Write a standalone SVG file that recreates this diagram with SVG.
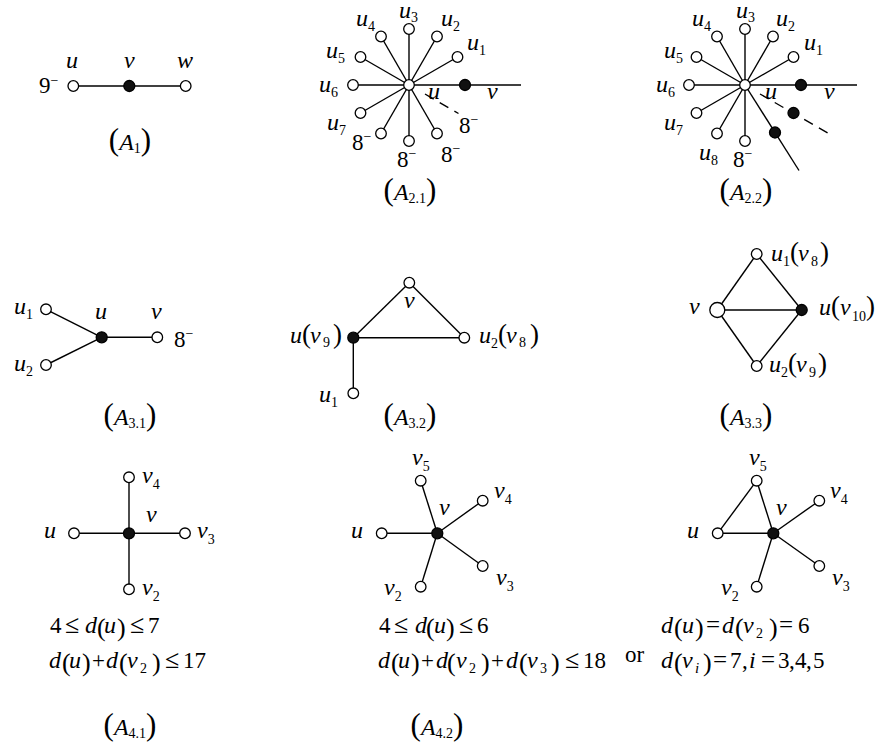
<svg xmlns="http://www.w3.org/2000/svg" width="875" height="746" viewBox="0 0 875 746">
<style>
text{font-family:"Liberation Serif","Times New Roman",serif;font-size:23px;fill:#000}
.i{font-style:italic;font-size:24px}
.s{font-size:14px;font-style:normal}
.si{font-size:15px;font-style:italic}
.sup{font-size:14px}
.p{font-size:27px;font-style:normal}
.mp{font-size:26px;font-style:normal}
.le{font-size:26px}
.eq{font-size:25px}
.cp{font-size:31px;font-style:normal}
.cs{font-size:14px;font-style:normal}
.e{stroke:#000;stroke-width:1.4;fill:none}
.d{stroke:#000;stroke-width:1.4;fill:none;stroke-dasharray:10,7}
.o{fill:#fff;stroke:#000;stroke-width:1.3}
.f{fill:#111;stroke:#000;stroke-width:1.3}
</style>
<g id="connectors">
  <line class="e" x1="73.3" y1="86" x2="185.7" y2="86"/>
  <line class="e" x1="409" y1="85" x2="521" y2="85"/>
  <line class="e" x1="409" y1="85" x2="457.5" y2="57"/>
  <line class="e" x1="409" y1="85" x2="437" y2="36.5"/>
  <line class="e" x1="409" y1="85" x2="409" y2="29"/>
  <line class="e" x1="409" y1="85" x2="381" y2="36.5"/>
  <line class="e" x1="409" y1="85" x2="360.5" y2="57"/>
  <line class="e" x1="409" y1="85" x2="353" y2="85"/>
  <line class="e" x1="409" y1="85" x2="360.5" y2="113"/>
  <line class="e" x1="409" y1="85" x2="381" y2="133.5"/>
  <line class="e" x1="409" y1="85" x2="409" y2="141"/>
  <line class="e" x1="409" y1="85" x2="437" y2="133.5"/>
  <line class="d" x1="425" y1="94" x2="458.5" y2="113.5"/>
  <line class="e" x1="745" y1="85" x2="857" y2="85"/>
  <line class="e" x1="745" y1="85" x2="793.5" y2="57"/>
  <line class="e" x1="745" y1="85" x2="773" y2="36.5"/>
  <line class="e" x1="745" y1="85" x2="745" y2="29"/>
  <line class="e" x1="745" y1="85" x2="717" y2="36.5"/>
  <line class="e" x1="745" y1="85" x2="696.5" y2="57"/>
  <line class="e" x1="745" y1="85" x2="689" y2="85"/>
  <line class="e" x1="745" y1="85" x2="696.5" y2="113"/>
  <line class="e" x1="745" y1="85" x2="717" y2="133.5"/>
  <line class="e" x1="745" y1="85" x2="745" y2="141"/>
  <line class="e" x1="745" y1="85" x2="799" y2="170.5"/>
  <line class="d" x1="760" y1="94" x2="828.5" y2="133.5"/>
  <line class="e" x1="46" y1="309.3" x2="101.7" y2="337.3"/>
  <line class="e" x1="46" y1="365" x2="101.7" y2="337.3"/>
  <line class="e" x1="101.7" y1="337.3" x2="157.3" y2="337.3"/>
  <line class="e" x1="353.3" y1="337.7" x2="409.3" y2="282.7"/>
  <line class="e" x1="409.3" y1="282.7" x2="464.3" y2="337.7"/>
  <line class="e" x1="353.3" y1="337.7" x2="464.3" y2="337.7"/>
  <line class="e" x1="353.3" y1="337.7" x2="353.3" y2="393.3"/>
  <line class="e" x1="717.3" y1="310" x2="756.7" y2="254"/>
  <line class="e" x1="756.7" y1="254" x2="801.7" y2="310"/>
  <line class="e" x1="717.3" y1="310" x2="801.7" y2="310"/>
  <line class="e" x1="717.3" y1="310" x2="756.7" y2="366"/>
  <line class="e" x1="756.7" y1="366" x2="801.7" y2="310"/>
  <line class="e" x1="74" y1="533.3" x2="185" y2="533.3"/>
  <line class="e" x1="129" y1="477.3" x2="129" y2="589.3"/>
  <line class="e" x1="381.7" y1="533.3" x2="437.3" y2="533.3"/>
  <line class="e" x1="437.3" y1="533.3" x2="420.7" y2="480.7"/>
  <line class="e" x1="437.3" y1="533.3" x2="482.7" y2="500.7"/>
  <line class="e" x1="437.3" y1="533.3" x2="482.7" y2="566"/>
  <line class="e" x1="437.3" y1="533.3" x2="420.7" y2="586.7"/>
  <line class="e" x1="717.7" y1="533.3" x2="773.3" y2="533.3"/>
  <line class="e" x1="717.7" y1="533.3" x2="756.7" y2="480.7"/>
  <line class="e" x1="773.3" y1="533.3" x2="756.7" y2="480.7"/>
  <line class="e" x1="773.3" y1="533.3" x2="819.3" y2="500.7"/>
  <line class="e" x1="773.3" y1="533.3" x2="819.3" y2="566"/>
  <line class="e" x1="773.3" y1="533.3" x2="756.7" y2="586.7"/>
</g>

<g id="a1-u"><circle class="o" cx="73.3" cy="86" r="5.3"/><text class="i" x="66" y="68">u</text><text x="39" y="93">9<tspan class="sup" dy="-8">−</tspan></text></g>
<g id="a1-v"><circle class="f" cx="129.3" cy="86" r="5.5"/><text class="i" x="124" y="68">v</text></g>
<g id="a1-w"><circle class="o" cx="185.7" cy="86" r="5.3"/><text class="i" x="177" y="68">w</text></g>
<g id="a1-cap"><text x="130" y="150" text-anchor="middle"><tspan class="cp">(</tspan><tspan class="i">A</tspan><tspan class="cs" dy="3">1</tspan><tspan class="cp" dy="-3">)</tspan></text></g>

<g id="a21-u1"><circle class="o" cx="457.5" cy="57" r="5.3"/><text class="i" x="467" y="50">u<tspan class="s" dy="5">1</tspan></text></g>
<g id="a21-u2"><circle class="o" cx="437" cy="36.5" r="5.3"/><text class="i" x="441" y="26">u<tspan class="s" dy="5">2</tspan></text></g>
<g id="a21-u3"><circle class="o" cx="409" cy="29" r="5.3"/><text class="i" x="399" y="18">u<tspan class="s" dy="4">3</tspan></text></g>
<g id="a21-u4"><circle class="o" cx="381" cy="36.5" r="5.3"/><text class="i" x="356" y="26">u<tspan class="s" dy="5">4</tspan></text></g>
<g id="a21-u5"><circle class="o" cx="360.5" cy="57" r="5.3"/><text class="i" x="326" y="58">u<tspan class="s" dy="5">5</tspan></text></g>
<g id="a21-u6"><circle class="o" cx="353" cy="85" r="5.3"/><text class="i" x="319" y="92">u<tspan class="s" dy="5">6</tspan></text></g>
<g id="a21-u7"><circle class="o" cx="360.5" cy="113" r="5.3"/><text class="i" x="327" y="130">u<tspan class="s" dy="5">7</tspan></text></g>
<g id="a21-n8"><circle class="o" cx="381" cy="133.5" r="5.3"/><text x="352" y="150">8<tspan class="sup" dy="-9">−</tspan></text></g>
<g id="a21-n9"><circle class="o" cx="409" cy="141" r="5.3"/><text x="397" y="167">8<tspan class="sup" dy="-9">−</tspan></text></g>
<g id="a21-n10"><circle class="o" cx="437" cy="133.5" r="5.3"/><text x="441" y="162">8<tspan class="sup" dy="-9">−</tspan></text></g>
<g id="a21-dash"><text x="459" y="133">8<tspan class="sup" dy="-9">−</tspan></text></g>
<g id="a21-v"><circle class="f" cx="465" cy="85" r="5.5"/><text class="i" x="487" y="99">v</text></g>
<g id="a21-u"><circle class="o" cx="409" cy="85" r="5.3"/><text class="i" x="428" y="99">u</text></g>
<g id="a21-cap"><text x="410" y="200" text-anchor="middle"><tspan class="cp">(</tspan><tspan class="i">A</tspan><tspan class="cs" dy="3">2.1</tspan><tspan class="cp" dy="-3">)</tspan></text></g>

<g id="a22-u1"><circle class="o" cx="793.5" cy="57" r="5.3"/><text class="i" x="804" y="50">u<tspan class="s" dy="5">1</tspan></text></g>
<g id="a22-u2"><circle class="o" cx="773" cy="36.5" r="5.3"/><text class="i" x="776" y="26">u<tspan class="s" dy="5">2</tspan></text></g>
<g id="a22-u3"><circle class="o" cx="745" cy="29" r="5.3"/><text class="i" x="736" y="18">u<tspan class="s" dy="4">3</tspan></text></g>
<g id="a22-u4"><circle class="o" cx="717" cy="36.5" r="5.3"/><text class="i" x="692" y="26">u<tspan class="s" dy="5">4</tspan></text></g>
<g id="a22-u5"><circle class="o" cx="696.5" cy="57" r="5.3"/><text class="i" x="664" y="58">u<tspan class="s" dy="5">5</tspan></text></g>
<g id="a22-u6"><circle class="o" cx="689" cy="85" r="5.3"/><text class="i" x="656" y="92">u<tspan class="s" dy="5">6</tspan></text></g>
<g id="a22-u7"><circle class="o" cx="696.5" cy="113" r="5.3"/><text class="i" x="664" y="130">u<tspan class="s" dy="5">7</tspan></text></g>
<g id="a22-u8"><circle class="o" cx="717" cy="133.5" r="5.3"/><text class="i" x="699" y="160">u<tspan class="s" dy="5">8</tspan></text></g>
<g id="a22-n9"><circle class="o" cx="745" cy="141" r="5.3"/><text x="733" y="167">8<tspan class="sup" dy="-9">−</tspan></text></g>
<g id="a22-f1"><circle class="f" cx="775" cy="132.5" r="5.5"/></g>
<g id="a22-f2"><circle class="f" cx="793.5" cy="113" r="5.5"/></g>
<g id="a22-v"><circle class="f" cx="801" cy="85" r="5.5"/><text class="i" x="824" y="99">v</text></g>
<g id="a22-u"><circle class="o" cx="745" cy="85" r="5.3"/><text class="i" x="765" y="99">u</text></g>
<g id="a22-cap"><text x="746" y="200" text-anchor="middle"><tspan class="cp">(</tspan><tspan class="i">A</tspan><tspan class="cs" dy="3">2.2</tspan><tspan class="cp" dy="-3">)</tspan></text></g>

<g id="a31-u1"><circle class="o" cx="46" cy="309.3" r="5.3"/><text class="i" x="14" y="314">u<tspan class="s" dy="5">1</tspan></text></g>
<g id="a31-u2"><circle class="o" cx="46" cy="365" r="5.3"/><text class="i" x="14" y="371">u<tspan class="s" dy="5">2</tspan></text></g>
<g id="a31-u"><circle class="f" cx="101.7" cy="337.3" r="5.5"/><text class="i" x="95" y="319">u</text></g>
<g id="a31-v"><circle class="o" cx="157.3" cy="337.3" r="5.3"/><text class="i" x="151" y="319">v</text><text x="174" y="347">8<tspan class="sup" dy="-9">−</tspan></text></g>
<g id="a31-cap"><text x="130" y="425" text-anchor="middle"><tspan class="cp">(</tspan><tspan class="i">A</tspan><tspan class="cs" dy="3">3.1</tspan><tspan class="cp" dy="-3">)</tspan></text></g>

<g id="a32-v"><circle class="o" cx="409.3" cy="282.7" r="5.3"/><text class="i" x="404" y="308">v</text></g>
<g id="a32-u"><circle class="f" cx="353.3" cy="337.7" r="5.5"/><text class="i" y="343"><tspan x="290">u</tspan><tspan class="p" x="302">(</tspan><tspan x="310">v</tspan><tspan class="s" x="323" y="347">9</tspan><tspan class="p" x="333" y="343">)</tspan></text></g>
<g id="a32-u2"><circle class="o" cx="464.3" cy="337.7" r="5.3"/><text class="i" y="343"><tspan x="479">u</tspan><tspan class="s" x="491" y="348">2</tspan><tspan class="p" x="498" y="343">(</tspan><tspan x="506">v</tspan><tspan class="s" x="519" y="347">8</tspan><tspan class="p" x="530" y="343">)</tspan></text></g>
<g id="a32-u1"><circle class="o" cx="353.3" cy="393.3" r="5.3"/><text class="i" x="319" y="402">u<tspan class="s" dy="5">1</tspan></text></g>
<g id="a32-cap"><text x="410" y="425" text-anchor="middle"><tspan class="cp">(</tspan><tspan class="i">A</tspan><tspan class="cs" dy="3">3.2</tspan><tspan class="cp" dy="-3">)</tspan></text></g>

<g id="a33-v"><circle class="o" cx="717.3" cy="310" r="7.5"/><text class="i" x="689" y="314">v</text></g>
<g id="a33-u1"><circle class="o" cx="756.7" cy="254" r="5.3"/><text class="i" y="261"><tspan x="771">u</tspan><tspan class="s" x="783" y="266">1</tspan><tspan class="p" x="790" y="261">(</tspan><tspan x="798">v</tspan><tspan class="s" x="811" y="266">8</tspan><tspan class="p" x="820" y="261">)</tspan></text></g>
<g id="a33-u"><circle class="f" cx="801.7" cy="310" r="5.5"/><text class="i" y="315"><tspan x="819">u</tspan><tspan class="p" x="831">(</tspan><tspan x="840">v</tspan><tspan class="s" x="852" y="321">10</tspan><tspan class="p" x="866" y="315">)</tspan></text></g>
<g id="a33-u2"><circle class="o" cx="756.7" cy="366" r="5.3"/><text class="i" y="372"><tspan x="769">u</tspan><tspan class="s" x="781" y="377">2</tspan><tspan class="p" x="788" y="372">(</tspan><tspan x="796">v</tspan><tspan class="s" x="809" y="377">9</tspan><tspan class="p" x="818" y="372">)</tspan></text></g>
<g id="a33-cap"><text x="746" y="425" text-anchor="middle"><tspan class="cp">(</tspan><tspan class="i">A</tspan><tspan class="cs" dy="3">3.3</tspan><tspan class="cp" dy="-3">)</tspan></text></g>

<g id="a41-v"><circle class="f" cx="129" cy="533.3" r="5.5"/><text class="i" x="146" y="522">v</text></g>
<g id="a41-u"><circle class="o" cx="74" cy="533.3" r="5.3"/><text class="i" x="44" y="538">u</text></g>
<g id="a41-v3"><circle class="o" cx="185" cy="533.3" r="5.3"/><text class="i" x="197" y="538">v<tspan class="s" dy="6">3</tspan></text></g>
<g id="a41-v4"><circle class="o" cx="129" cy="477.3" r="5.3"/><text class="i" x="142" y="483">v<tspan class="s" dy="6">4</tspan></text></g>
<g id="a41-v2"><circle class="o" cx="129" cy="589.3" r="5.3"/><text class="i" x="142" y="595">v<tspan class="s" dy="6">2</tspan></text></g>
<g id="a41-cond">
<text y="633"><tspan x="50">4</tspan><tspan class="le" x="65">≤</tspan><tspan class="i" x="85">d</tspan><tspan class="mp" x="97" y="636">(</tspan><tspan class="i" x="104" y="633">u</tspan><tspan class="mp" x="117" y="636">)</tspan><tspan class="le" x="130" y="633">≤</tspan><tspan x="148">7</tspan></text>
<text y="668"><tspan class="i" x="49">d</tspan><tspan class="mp" x="62" y="671">(</tspan><tspan class="i" x="69" y="668">u</tspan><tspan class="mp" x="82" y="671">)</tspan><tspan x="92" y="668">+</tspan><tspan class="i" x="106">d</tspan><tspan class="mp" x="119" y="671">(</tspan><tspan class="i" x="127" y="668">v</tspan><tspan class="s" x="140" y="673">2</tspan><tspan class="mp" x="152" y="671">)</tspan><tspan class="le" x="165" y="668">≤</tspan><tspan x="183">17</tspan></text>
</g>
<g id="a41-cap"><text x="130" y="735" text-anchor="middle"><tspan class="cp">(</tspan><tspan class="i">A</tspan><tspan class="cs" dy="3">4.1</tspan><tspan class="cp" dy="-3">)</tspan></text></g>

<g id="a42a-v"><circle class="f" cx="437.3" cy="533.3" r="5.5"/><text class="i" x="439" y="515">v</text></g>
<g id="a42a-u"><circle class="o" cx="381.7" cy="533.3" r="5.3"/><text class="i" x="351" y="538">u</text></g>
<g id="a42a-v5"><circle class="o" cx="420.7" cy="480.7" r="5.3"/><text class="i" x="412" y="465">v<tspan class="s" dy="6">5</tspan></text></g>
<g id="a42a-v4"><circle class="o" cx="482.7" cy="500.7" r="5.3"/><text class="i" x="494" y="498">v<tspan class="s" dy="6">4</tspan></text></g>
<g id="a42a-v3"><circle class="o" cx="482.7" cy="566" r="5.3"/><text class="i" x="496" y="585">v<tspan class="s" dy="6">3</tspan></text></g>
<g id="a42a-v2"><circle class="o" cx="420.7" cy="586.7" r="5.3"/><text class="i" x="384" y="595">v<tspan class="s" dy="6">2</tspan></text></g>
<g id="a42a-cond">
<text y="633"><tspan x="379">4</tspan><tspan class="le" x="394">≤</tspan><tspan class="i" x="415">d</tspan><tspan class="mp" x="426" y="636">(</tspan><tspan class="i" x="434" y="633">u</tspan><tspan class="mp" x="446" y="636">)</tspan><tspan class="le" x="459" y="633">≤</tspan><tspan x="477">6</tspan></text>
<text y="668"><tspan class="i" x="378">d</tspan><tspan class="mp" x="391" y="671">(</tspan><tspan class="i" x="398" y="668">u</tspan><tspan class="mp" x="411" y="671">)</tspan><tspan x="421" y="668">+</tspan><tspan class="i" x="436">d</tspan><tspan class="mp" x="447" y="671">(</tspan><tspan class="i" x="456" y="668">v</tspan><tspan class="s" x="469" y="673">2</tspan><tspan class="mp" x="481" y="671">)</tspan><tspan x="491" y="668">+</tspan><tspan class="i" x="506">d</tspan><tspan class="mp" x="519" y="671">(</tspan><tspan class="i" x="527" y="668">v</tspan><tspan class="s" x="540" y="673">3</tspan><tspan class="mp" x="551" y="671">)</tspan><tspan class="le" x="565" y="668">≤</tspan><tspan x="583">18</tspan></text>
</g>
<g id="a42-or"><text x="625" y="662">or</text></g>

<g id="a42b-v"><circle class="f" cx="773.3" cy="533.3" r="5.5"/><text class="i" x="776" y="515">v</text></g>
<g id="a42b-u"><circle class="o" cx="717.7" cy="533.3" r="5.3"/><text class="i" x="687" y="538">u</text></g>
<g id="a42b-v5"><circle class="o" cx="756.7" cy="480.7" r="5.3"/><text class="i" x="749" y="465">v<tspan class="s" dy="6">5</tspan></text></g>
<g id="a42b-v4"><circle class="o" cx="819.3" cy="500.7" r="5.3"/><text class="i" x="830" y="498">v<tspan class="s" dy="6">4</tspan></text></g>
<g id="a42b-v3"><circle class="o" cx="819.3" cy="566" r="5.3"/><text class="i" x="832" y="585">v<tspan class="s" dy="6">3</tspan></text></g>
<g id="a42b-v2"><circle class="o" cx="756.7" cy="586.7" r="5.3"/><text class="i" x="721" y="595">v<tspan class="s" dy="6">2</tspan></text></g>
<g id="a42b-cond">
<text y="633"><tspan class="i" x="661">d</tspan><tspan class="mp" x="674" y="636">(</tspan><tspan class="i" x="682" y="633">u</tspan><tspan class="mp" x="695" y="636">)</tspan><tspan class="eq" x="706" y="633">=</tspan><tspan class="i" x="722">d</tspan><tspan class="mp" x="735" y="636">(</tspan><tspan class="i" x="743" y="633">v</tspan><tspan class="s" x="756" y="638">2</tspan><tspan class="mp" x="769" y="636">)</tspan><tspan class="eq" x="779" y="633">=</tspan><tspan x="798">6</tspan></text>
<text y="668"><tspan class="i" x="661">d</tspan><tspan class="mp" x="674" y="671">(</tspan><tspan class="i" x="682" y="668">v</tspan><tspan class="si" x="695" y="673">i</tspan><tspan class="mp" x="703" y="671">)</tspan><tspan class="eq" x="713" y="668">=</tspan><tspan x="730">7</tspan><tspan x="742">,</tspan><tspan class="i" x="749">i</tspan><tspan class="eq" x="761">=</tspan><tspan x="778">3</tspan><tspan x="789">,</tspan><tspan x="795">4</tspan><tspan x="806">,</tspan><tspan x="813">5</tspan></text>
</g>
<g id="a42-cap"><text x="437" y="735" text-anchor="middle"><tspan class="cp">(</tspan><tspan class="i">A</tspan><tspan class="cs" dy="3">4.2</tspan><tspan class="cp" dy="-3">)</tspan></text></g>
</svg>
